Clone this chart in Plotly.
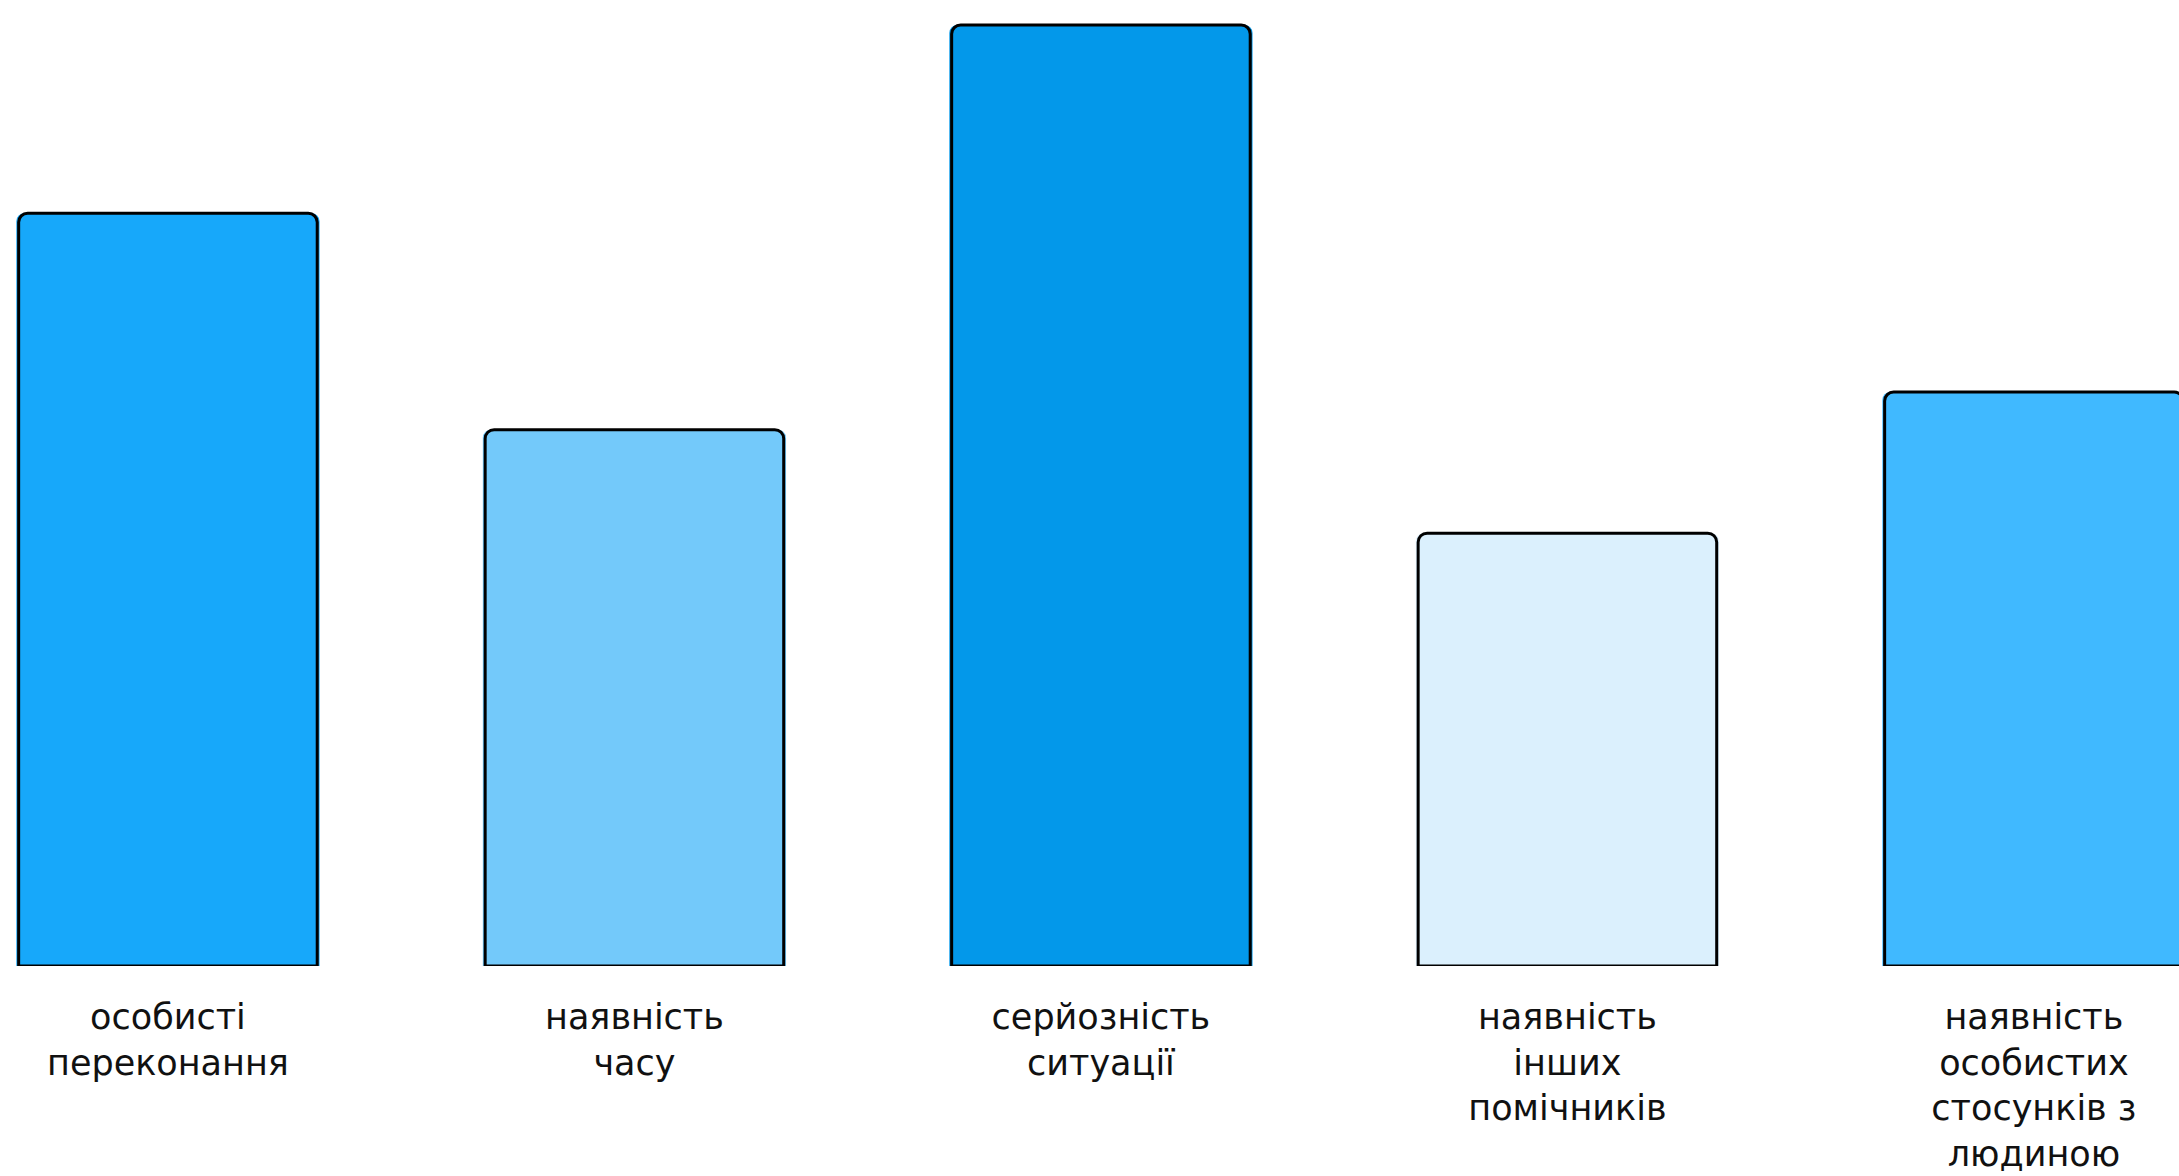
import plotly.graph_objects as go

# Factors that influence whether a bystander helps (relative weight)
categories = [
    "особисті<br>переконання",
    "наявність<br>часу",
    "серйозність<br>ситуації",
    "наявність<br>інших<br>помічників",
    "наявність<br>особистих<br>стосунків з<br>людиною",
]
values = [80, 57, 100, 46, 61]
bar_colors = ["#17A8FA", "#73C9FA", "#0398EA", "#DBF0FD", "#40B9FF"]

x_pos = list(range(len(categories)))

fig = go.Figure()

# filled bodies
fig.add_trace(go.Bar(
    x=x_pos, y=values, width=0.65,
    marker=dict(color=bar_colors, line=dict(width=0), cornerradius=8),
    hoverinfo="skip", showlegend=False,
))

# black outlines on top of the fills
fig.add_trace(go.Bar(
    x=x_pos, y=values, width=0.64,
    marker=dict(color="rgba(0,0,0,0)", line=dict(color="#000000", width=3),
                cornerradius=9),
    hoverinfo="skip", showlegend=False,
))

fig.update_layout(
    width=2179, height=1176,
    margin=dict(l=0, r=0, t=0, b=210),
    paper_bgcolor="white", plot_bgcolor="white",
    barmode="overlay",
    font=dict(family="DejaVu Sans", size=35, color="#111111"),
    xaxis=dict(
        range=[-0.36, 4.311],
        tickmode="array", tickvals=x_pos, ticktext=categories,
        showgrid=False, zeroline=False, showline=False, ticks="",
        ticklabelstandoff=27, automargin=False,
    ),
    yaxis=dict(range=[0, 102.66], visible=False, automargin=False),
)

fig.write_html("out.html")
